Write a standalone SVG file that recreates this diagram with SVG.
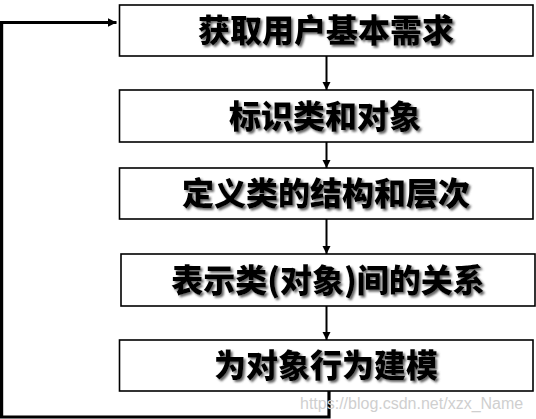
<svg xmlns="http://www.w3.org/2000/svg" width="536" height="419" viewBox="0 0 536 419">
<style>
.box{fill:#fff;stroke:#000;stroke-width:1.6}
.lbl{font-family:"Noto Sans CJK SC","Microsoft YaHei",sans-serif;font-weight:900;font-size:32px;fill:#000;text-anchor:middle;filter:url(#sh)}
.flow{fill:none;stroke:#000;stroke-width:2}
.back{fill:none;stroke:#000;stroke-width:3.2}
.wm{font-family:"Liberation Sans",Arial,sans-serif;font-size:16px;fill:#cfcfcf}
</style>
<defs>
<filter id="sh" x="-10%" y="-30%" width="120%" height="160%">
<feDropShadow dx="2" dy="2" stdDeviation="0.8" flood-color="#555" flood-opacity="0.9"/>
</filter>
<marker id="ah" markerUnits="userSpaceOnUse" markerWidth="10" markerHeight="10" refX="8" refY="4" orient="auto">
<path d="M0,0 L8,4 L0,8 Z" fill="#000"/>
</marker>
<marker id="ahb" markerUnits="userSpaceOnUse" markerWidth="12" markerHeight="12" refX="9" refY="4.5" orient="auto">
<path d="M0,0 L9,4.5 L0,9 Z" fill="#000"/>
</marker>
</defs>
<g id="connectors">
<path class="flow" d="M326.5,56 V90" marker-end="url(#ah)"/>
<path class="flow" d="M326.5,142 V168" marker-end="url(#ah)"/>
<path class="flow" d="M326.5,219 V254" marker-end="url(#ah)"/>
<path class="flow" d="M326.5,306 V340" marker-end="url(#ah)"/>
<path class="back" d="M329,391 V417 H1.6 V22.5 H116.5" marker-end="url(#ahb)"/>
</g>
<g id="n1">
<rect class="box" x="119.5" y="5" width="413.5" height="51"/>
<text class="lbl" x="326" y="42">获取用户基本需求</text>
</g>
<g id="n2">
<rect class="box" x="119.5" y="90" width="413.5" height="52"/>
<text class="lbl" x="325" y="128">标识类和对象</text>
</g>
<g id="n3">
<rect class="box" x="119.5" y="168" width="413.5" height="51"/>
<text class="lbl" x="326" y="205">定义类的结构和层次</text>
</g>
<g id="n4">
<rect class="box" x="121" y="254" width="414" height="52"/>
<text class="lbl" x="328" y="292">表示类(对象)间的关系</text>
</g>
<g id="n5">
<rect class="box" x="119.5" y="340" width="413.5" height="51"/>
<text class="lbl" x="326" y="377">为对象行为建模</text>
</g>
<text class="wm" x="300" y="409">https://blog.csdn.net/xzx_Name</text>
</svg>
